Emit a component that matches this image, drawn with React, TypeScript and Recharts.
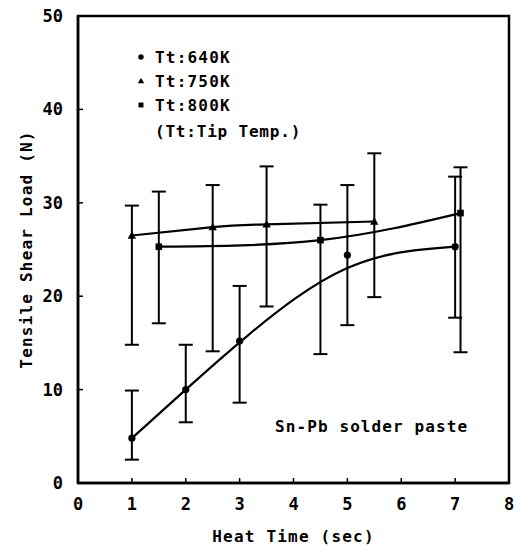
import { LineChart, Line, XAxis, YAxis, ErrorBar, ReferenceArea } from "recharts";

const FONT = "'DejaVu Sans Mono', monospace";

// Tt:640K
const t640Time = [1, 2, 3, 5, 7];
const t640Load = [4.8, 10, 15.2, 24.4, 25.3];
const t640Low = [2.5, 6.5, 8.6, 16.9, 17.7];
const t640High = [9.9, 14.8, 21.1, 31.9, 32.8];

// Tt:750K
const t750Time = [1, 2.5, 3.5, 5.5];
const t750Load = [26.5, 27.4, 27.7, 28.0];
const t750Low = [14.8, 14.1, 18.9, 19.9];
const t750High = [29.7, 31.9, 33.9, 35.3];

// Tt:800K
const t800Time = [1.5, 4.5, 7.1];
const t800Load = [25.3, 26.0, 28.9];
const t800Low = [17.1, 13.8, 14.0];
const t800High = [31.2, 29.8, 33.8];

const xTicks = [0, 1, 2, 3, 4, 5, 6, 7, 8];
const yTicks = [0, 10, 20, 30, 40, 50];

const legendItems = [
  { label: "Tt:640K", shape: "circle" },
  { label: "Tt:750K", shape: "triangle" },
  { label: "Tt:800K", shape: "square" },
];
const legendNote = "(Tt:Tip Temp.)";
const annotation = "Sn-Pb solder paste";

function build(time: number[], load: number[], low: number[], high: number[]) {
  return time.map((t, i) => ({
    time: t,
    load: load[i],
    err: [load[i] - low[i], high[i] - load[i]],
  }));
}

const data640 = build(t640Time, t640Load, t640Low, t640High);
const data750 = build(t750Time, t750Load, t750Low, t750High);
const data800 = build(t800Time, t800Load, t800Low, t800High);

function Marker({ cx, cy, shape, size = 1 }: any) {
  if (cx == null || cy == null) return null;
  if (shape === "triangle") {
    const s = 4.2 * size;
    return <polygon points={`${cx},${cy - s} ${cx - s},${cy + s * 0.75} ${cx + s},${cy + s * 0.75}`} fill="#000" />;
  }
  if (shape === "square") {
    const s = 3.3 * size;
    return <rect x={cx - s} y={cy - s} width={2 * s} height={2 * s} fill="#000" />;
  }
  return <circle cx={cx} cy={cy} r={3.6 * size} fill="#000" />;
}

const X_MARGIN = 14;
const Y_MARGIN = 15;

function XTick({ x, y, payload }: any) {
  const axisY = y - X_MARGIN;
  return (
    <g>
      {payload.value > 0 && payload.value < 8 && (
        <line x1={x} x2={x} y1={axisY} y2={axisY - 5} stroke="#000" strokeWidth={1.5} />
      )}
      <text x={x} y={y} dy={13} textAnchor="middle" fontFamily={FONT} fontWeight="bold" fontSize={17} fill="#000">
        {payload.value}
      </text>
    </g>
  );
}

function YTick({ x, y, payload }: any) {
  const axisX = x + Y_MARGIN;
  return (
    <g>
      {payload.value > 0 && payload.value < 50 && (
        <line x1={axisX} x2={axisX + 5} y1={y} y2={y} stroke="#000" strokeWidth={1.5} />
      )}
      <text x={x} y={y} dy={6} textAnchor="end" fontFamily={FONT} fontWeight="bold" fontSize={17} fill="#000">
        {payload.value}
      </text>
    </g>
  );
}

const textStyle = { fontFamily: FONT, fontWeight: "bold", fontSize: 16, letterSpacing: 1.2, fill: "#000" } as const;

const legendBaselines = [63, 87, 111];

function LegendBlock() {
  return (
    <g>
      {legendItems.map((it, i) => (
        <g key={it.label}>
          <Marker cx={141} cy={legendBaselines[i] - 6} shape={it.shape} size={0.75} />
          <text x={155} y={legendBaselines[i]} {...textStyle}>
            {it.label}
          </text>
        </g>
      ))}
      <text x={155} y={137} {...textStyle} letterSpacing={0.8}>
        {legendNote}
      </text>
    </g>
  );
}

export default function App() {
  return (
    <div style={{ position: "absolute", left: 0, top: 0, background: "#fff" }}>
      <LineChart width={516} height={546} margin={{ top: 16, right: 7, left: 0, bottom: 0 }}>
        <XAxis
          dataKey="time"
          type="number"
          domain={[0, 8]}
          ticks={xTicks}
          allowDuplicatedCategory={false}
          height={63}
          tickSize={0}
          tickMargin={X_MARGIN}
          tick={<XTick />}
          axisLine={{ stroke: "#000", strokeWidth: 2.5 }}
          label={{ value: "Heat Time (sec)", position: "insideBottom", offset: 4, fontFamily: FONT, fontWeight: "bold", fontSize: 16, letterSpacing: 1.2, fill: "#000" }}
        />
        <YAxis
          type="number"
          domain={[0, 50]}
          ticks={yTicks}
          width={78}
          tickSize={0}
          tickMargin={Y_MARGIN}
          tick={<YTick />}
          axisLine={{ stroke: "#000", strokeWidth: 2.5 }}
          label={{ value: "Tensile Shear Load (N)", angle: -90, position: "insideLeft", offset: 26, fontFamily: FONT, fontWeight: "bold", fontSize: 16, letterSpacing: 1.2, fill: "#000", style: { textAnchor: "middle" } }}
        />
        <ReferenceArea x1={0} x2={8} y1={0} y2={50} fill="none" stroke="#000" strokeWidth={2.5} ifOverflow="visible" />
        <Line data={data640} dataKey="load" type="basis" stroke="#000" strokeWidth={2.2} isAnimationActive={false} dot={(p: any) => <Marker key={p.index} {...p} shape="circle" />} legendType="none">
          <ErrorBar dataKey="err" direction="y" width={7} stroke="#000" strokeWidth={2} />
        </Line>
        <Line data={data750} dataKey="load" type="natural" stroke="#000" strokeWidth={2.2} isAnimationActive={false} dot={(p: any) => <Marker key={p.index} {...p} shape="triangle" />} legendType="none">
          <ErrorBar dataKey="err" direction="y" width={7} stroke="#000" strokeWidth={2} />
        </Line>
        <Line data={data800} dataKey="load" type="natural" stroke="#000" strokeWidth={2.2} isAnimationActive={false} dot={(p: any) => <Marker key={p.index} {...p} shape="square" />} legendType="none">
          <ErrorBar dataKey="err" direction="y" width={7} stroke="#000" strokeWidth={2} />
        </Line>
        <LegendBlock />
        <text x={275} y={432} {...textStyle} letterSpacing={1.1}>
          {annotation}
        </text>
      </LineChart>
    </div>
  );
}
